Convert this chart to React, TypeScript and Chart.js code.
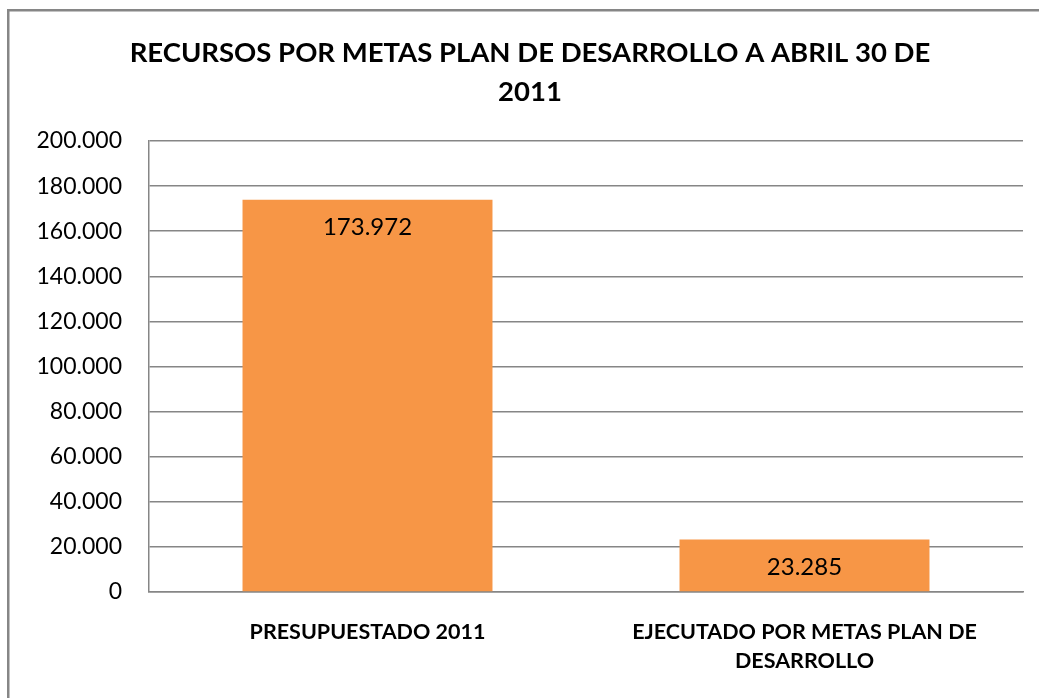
import React, { useEffect, useRef } from "react";
import { Chart, registerables } from "chart.js";

Chart.register(...registerables);

const titleLines = ["RECURSOS POR METAS PLAN DE DESARROLLO A ABRIL 30 DE", "2011"];
const categories = [["PRESUPUESTADO 2011"], ["EJECUTADO POR METAS PLAN DE", "DESARROLLO"]];
const values = [173972, 23285];
const yMax = 200000;
const yStep = 20000;

const FONT = "Lato";

const fmt = (v: number) => {
  const s = Math.round(v).toString();
  return s.replace(/\B(?=(\d{3})+(?!\d))/g, ".");
};

const borderPlugin = {
  id: "outerBorder",
  beforeDraw(chart: any) {
    const ctx = chart.ctx;
    ctx.save();
    ctx.fillStyle = "#ffffff";
    ctx.fillRect(0, 0, chart.width, chart.height);
    ctx.strokeStyle = "#868686";
    ctx.lineWidth = 2.5;
    ctx.strokeRect(8.25, 10.25, chart.width + 20, chart.height + 20);
    ctx.restore();
  },
};

const titlePlugin = {
  id: "customTitle",
  afterDraw(chart: any) {
    const ctx = chart.ctx;
    ctx.save();
    ctx.fillStyle = "#000000";
    ctx.font = `bold 27.5px ${FONT}`;
    ctx.textAlign = "center";
    ctx.textBaseline = "middle";
    ctx.fillText(titleLines[0], 530, 53);
    ctx.fillText(titleLines[1], 530, 92);
    ctx.restore();
  },
};

const labelPlugin = {
  id: "barLabels",
  afterDatasetsDraw(chart: any) {
    const ctx = chart.ctx;
    const meta = chart.getDatasetMeta(0);
    ctx.save();
    ctx.fillStyle = "#000000";
    ctx.font = `24px ${FONT}`;
    ctx.textAlign = "center";
    ctx.textBaseline = "middle";
    meta.data.forEach((bar: any, i: number) => {
      ctx.fillText(fmt(values[i]), bar.x, bar.y + 28);
    });
    ctx.restore();
  },
};

export default function App() {
  const ref = useRef<HTMLCanvasElement>(null);
  useEffect(() => {
    if (!ref.current) return;
    const chart = new Chart(ref.current, {
      type: "bar",
      data: {
        labels: categories as any,
        datasets: [
          {
            data: values,
            backgroundColor: "#F79646",
            borderWidth: 0,
            barPercentage: 0.572,
            categoryPercentage: 1,
          },
        ],
      },
      options: {
        responsive: false,
        animation: false,
        devicePixelRatio: 1,
        layout: { padding: { left: 0, right: 16, top: 141, bottom: 0 } },
        plugins: {
          legend: { display: false },
          title: { display: false },
          tooltip: { enabled: false },
        },
        scales: {
          x: {
            grid: { display: false, drawTicks: false },
            border: { display: true, color: "#868686", width: 1.5 },
            ticks: {
              color: "#000000",
              font: { family: FONT, size: 21.5, weight: "bold", lineHeight: 1.35 },
              padding: 26,
              maxRotation: 0,
              autoSkip: false,
            },
            afterFit(scale: any) {
              scale.height = 106;
            },
          },
          y: {
            min: 0,
            max: yMax,
            grid: { color: "#868686", lineWidth: 1.5, drawTicks: false },
            border: { display: true, color: "#868686", width: 1.5 },
            ticks: {
              stepSize: yStep,
              color: "#000000",
              font: { family: FONT, size: 23 },
              padding: 27,
              callback: (v: any) => fmt(Number(v)),
            },
            afterFit(scale: any) {
              scale.width = 149;
            },
          },
        },
      },
      plugins: [borderPlugin, titlePlugin, labelPlugin],
    });
    return () => chart.destroy();
  }, []);
  return (
    <canvas
      ref={ref}
      width={1039}
      height={698}
      style={{ position: "absolute", left: 0, top: 0, width: 1039, height: 698 }}
    />
  );
}
